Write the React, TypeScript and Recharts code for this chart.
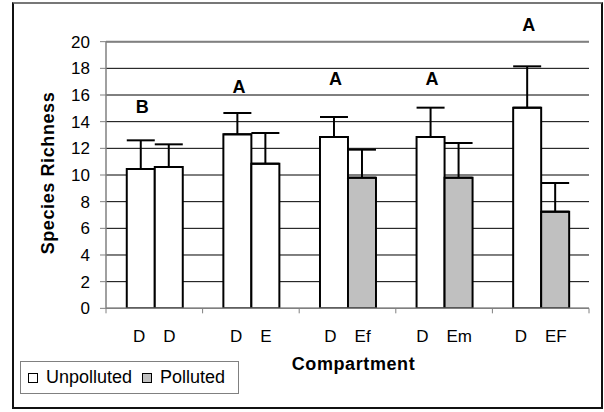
import React from 'react';
import {
  ComposedChart,
  Bar,
  Cell,
  ErrorBar,
  XAxis,
  YAxis,
  CartesianGrid,
  ReferenceLine,
  ReferenceDot,
  Legend,
} from 'recharts';

// compartments compared in each pair (left bar is always the reference "D")
const controlLabels = ['D', 'D', 'D', 'D', 'D'];
const compareLabels = ['D', 'E', 'Ef', 'Em', 'EF'];

// mean species richness
const controlMeans = [10.45, 13.05, 12.85, 12.85, 15.05];
const compareMeans = [10.6, 10.85, 9.8, 9.8, 7.25];

// + error (upper whisker only)
const controlErr = [2.15, 1.6, 1.5, 2.2, 3.1];
const compareErr = [1.7, 2.3, 2.1, 2.6, 2.15];

// is the compared compartment polluted?
const comparePolluted = [false, false, true, true, true];

// significance letters and the level they sit at
const groupLetters = ['B', 'A', 'A', 'A', 'A'];
const letterLevels = [15.1, 16.6, 17.2, 17.2, 21.25];

const yTicks = [0, 2, 4, 6, 8, 10, 12, 14, 16, 18, 20];
const legendNames = ['Unpolluted', 'Polluted'];

const WIDTH = 604;
const HEIGHT = 412;
const Y_AXIS_W = 106;
const RIGHT = 15;
const TOP = 41.67;
const X_AXIS_H = 103.67;
const BAND = (WIDTH - Y_AXIS_W - RIGHT) / controlLabels.length;

const AXIS_GRAY = '#808080';
const WHITE = '#ffffff';
const GRAY_FILL = '#c0c0c0';
const FONT = '"Liberation Sans", Arial, sans-serif';

const data = controlLabels.map((c, i) => ({
  pair: `${c} ${compareLabels[i]}`,
  control: controlMeans[i],
  compare: compareMeans[i],
  controlErr: [0, controlErr[i]],
  compareErr: [0, compareErr[i]],
}));

const PairTick = (props: any) => {
  const { x, y, payload } = props;
  const i = data.findIndex((d) => d.pair === payload.value);
  const half = BAND / 2;
  return (
    <g>
      <line x1={x - half} x2={x - half} y1={y} y2={y + 5} stroke={AXIS_GRAY} />
      {i === data.length - 1 && (
        <line x1={x + half} x2={x + half} y1={y} y2={y + 5} stroke={AXIS_GRAY} />
      )}
      <text x={x} y={y + 34} textAnchor="middle" fontSize={17} fill="#000">
        <tspan>{controlLabels[i]}</tspan>
        <tspan dx={18}>{compareLabels[i]}</tspan>
      </text>
    </g>
  );
};

const LegendBox = () => {
  const fills = [WHITE, GRAY_FILL];
  return (
    <div
      style={{
        boxSizing: 'border-box',
        width: '100%',
        height: '100%',
        border: '1px solid #808080',
        background: '#fff',
        display: 'flex',
        alignItems: 'center',
        paddingLeft: 7,
        fontFamily: FONT,
        fontSize: 18,
        color: '#000',
      }}
    >
      {legendNames.map((name, i) => (
        <div key={name} style={{ display: 'flex', alignItems: 'center', marginRight: 10 }}>
          <span
            style={{
              boxSizing: 'border-box',
              display: 'inline-block',
              width: 10,
              height: 10,
              border: '1.5px solid #000',
              background: fills[i],
              marginRight: 8,
            }}
          />
          <span>{name}</span>
        </div>
      ))}
    </div>
  );
};

export default function App() {
  return (
    <div style={{ position: 'absolute', left: 0, top: 0, width: WIDTH, height: HEIGHT, fontFamily: FONT, background: '#fff' }}>
      <div
        style={{
          position: 'absolute',
          left: 12,
          top: 2,
          width: 591,
          height: 407,
          boxSizing: 'border-box',
          border: '2px solid #111',
          borderTopColor: '#777',
        }}
      />
      <div style={{ position: 'absolute', left: 0, top: 0 }}>
        <ComposedChart
          width={WIDTH}
          height={HEIGHT}
          data={data}
          margin={{ top: TOP, right: RIGHT, bottom: 0, left: 0 }}
          barCategoryGap="21.5%"
          barGap={0}
        >
          <CartesianGrid vertical={false} stroke="#000" strokeWidth={1} />
          <XAxis
            dataKey="pair"
            height={X_AXIS_H}
            tickLine={false}
            tickSize={0}
            tickMargin={0}
            axisLine={{ stroke: AXIS_GRAY, strokeWidth: 1.5 }}
            tick={<PairTick />}
            interval={0}
            label={(p: any) => {
              const vb = p.viewBox;
              return (
                <text
                  x={vb.x + vb.width / 2 + 6}
                  y={vb.y + 62}
                  textAnchor="middle"
                  fontSize={18}
                  fontWeight="bold"
                  letterSpacing={0.6}
                  fill="#000"
                >
                  Compartment
                </text>
              );
            }}
          />
          <YAxis
            width={Y_AXIS_W}
            domain={[0, 20]}
            ticks={yTicks}
            allowDataOverflow
            tickSize={6}
            tickMargin={10}
            tickLine={{ stroke: AXIS_GRAY }}
            axisLine={{ stroke: AXIS_GRAY, strokeWidth: 1.5 }}
            tick={{ fill: '#000', fontSize: 17 }}
            label={(p: any) => {
              const vb = p.viewBox;
              const cx = vb.x + 48;
              const cy = vb.y + vb.height / 2 - 2;
              return (
                <text
                  x={cx}
                  y={cy}
                  dy="0.35em"
                  transform={`rotate(-90 ${cx} ${cy})`}
                  textAnchor="middle"
                  fontSize={18}
                  fontWeight="bold"
                  letterSpacing={0.6}
                  fill="#000"
                >
                  Species Richness
                </text>
              );
            }}
          />
          <YAxis
            yAxisId="frame"
            orientation="right"
            width={0}
            domain={[0, 20]}
            tick={false}
            tickLine={false}
            axisLine={{ stroke: AXIS_GRAY, strokeWidth: 2 }}
          />
          <ReferenceLine y={20} stroke={AXIS_GRAY} strokeWidth={2} />
          <Bar dataKey="control" fill={WHITE} stroke="#000" strokeWidth={2} isAnimationActive={false}>
            <ErrorBar dataKey="controlErr" width={14} stroke="#000" strokeWidth={2} direction="y" />
          </Bar>
          <Bar dataKey="compare" stroke="#000" strokeWidth={2} isAnimationActive={false}>
            {data.map((d, i) => (
              <Cell key={d.pair} fill={comparePolluted[i] ? GRAY_FILL : WHITE} />
            ))}
            <ErrorBar dataKey="compareErr" width={14} stroke="#000" strokeWidth={2} direction="y" />
          </Bar>
          {data.map((d, i) => (
            <ReferenceDot
              key={`letter-${d.pair}`}
              x={d.pair}
              y={letterLevels[i]}
              ifOverflow="visible"
              shape={(p: any) => (
                <text
                  x={p.cx - 12}
                  y={p.cy}
                  dy="0.35em"
                  textAnchor="middle"
                  fontSize={18}
                  fontWeight="bold"
                  fill="#000"
                >
                  {groupLetters[i]}
                </text>
              )}
            />
          ))}
          <Legend
            layout="horizontal"
            verticalAlign="middle"
            align="center"
            wrapperStyle={{ left: 20, top: 361, width: 219, height: 33 }}
            content={<LegendBox />}
          />
        </ComposedChart>
      </div>
    </div>
  );
}
